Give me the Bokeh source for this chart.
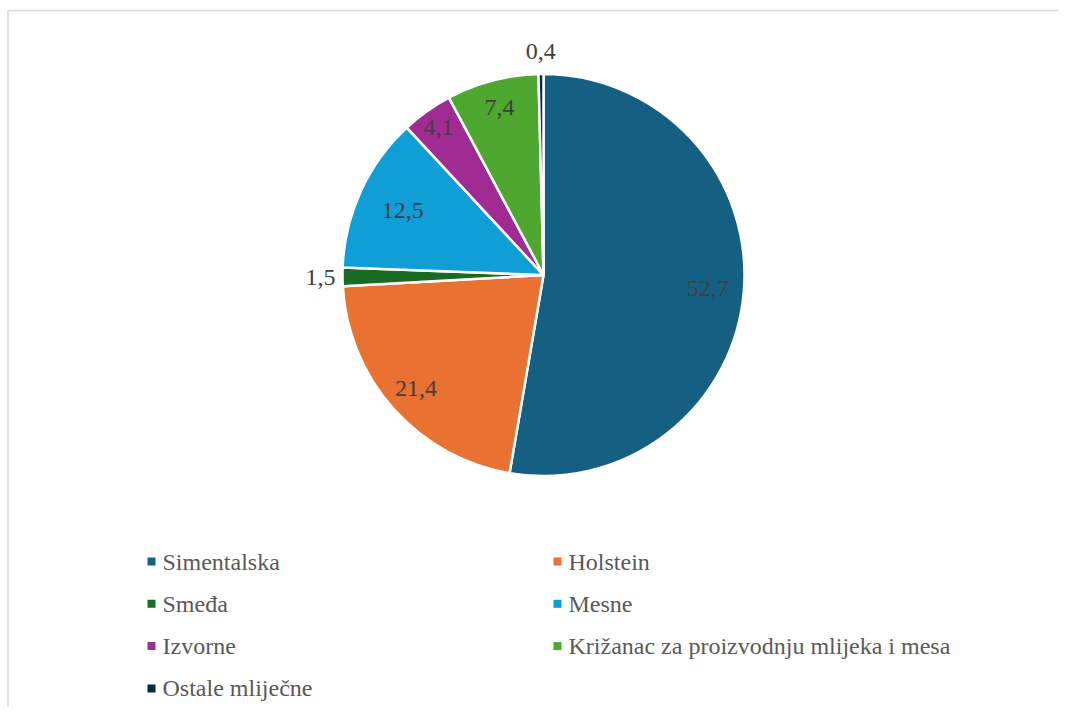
import math
from bokeh.plotting import figure
from bokeh.models import ColumnDataSource, Range1d
from bokeh.core.properties import value
from bokeh.embed import file_html
from bokeh.resources import INLINE

categories = ["Simentalska", "Holstein", "Smeđa", "Mesne", "Izvorne",
              "Križanac za proizvodnju mlijeka i mesa", "Ostale mliječne"]
values = [52.7, 21.4, 1.5, 12.5, 4.1, 7.4, 0.4]
value_labels = ["52,7", "21,4", "1,5", "12,5", "4,1", "7,4", "0,4"]
colors = ["#156082", "#E97132", "#196B24", "#0F9ED5", "#A02B93", "#4EA72E", "#0E2841"]
# style: radial position of each data label, as a fraction of the pie radius
label_radius_frac = [0.82, 0.85, 1.11, 0.77, 0.90, 0.86, 1.11]

W, H = 1059, 707
FONT = "'Liberation Serif', 'Times New Roman', Times, serif"

p = figure(width=W, height=H, output_backend="svg", toolbar_location=None,
           x_range=Range1d(0, W), y_range=Range1d(0, H),
           min_border=0, outline_line_color=None)
p.axis.visible = False
p.grid.visible = False
p.background_fill_color = "white"
p.border_fill_color = "white"

def sy(screen_y):
    return H - screen_y

# chart-area frame (only top/left edges visible in the window)
p.line([7.5, 7.5, W], [0, sy(10), sy(10)], line_color="#D9D9D9", line_width=1.5)

cx, cy = 543, sy(274.5)
R = 201

total = sum(values)
starts, ends, lx, ly = [], [], [], []
cum = 0.0
for v, f in zip(values, label_radius_frac):
    a0 = math.pi / 2 - 2 * math.pi * (cum + v) / total
    a1 = math.pi / 2 - 2 * math.pi * cum / total
    starts.append(a0)
    ends.append(a1)
    mid = (a0 + a1) / 2
    r = f * R
    lx.append(cx + r * math.cos(mid))
    ly.append(cy + r * math.sin(mid))
    cum += v

src = ColumnDataSource(dict(start=starts, end=ends, color=colors,
                            lx=lx, ly=ly, lab=value_labels))
p.wedge(x=cx, y=cy, radius=R, start_angle="start", end_angle="end",
        fill_color="color", line_color="white", line_width=2.5, source=src)
p.text(x="lx", y="ly", text="lab", source=src, text_align="center",
       text_baseline="middle", text_color="#404040",
       text_font=value(FONT), text_font_size="24px")

# legend
mx, tx, my = [], [], []
for i in range(len(categories)):
    col, row = i % 2, i // 2
    mx.append(151 if col == 0 else 557)
    tx.append(162 if col == 0 else 568)
    my.append(sy(561 + 42.3 * row))
lsrc = ColumnDataSource(dict(mx=mx, tx=tx, my=my, color=colors, name=categories))
p.scatter(x="mx", y="my", marker="square", size=8, fill_color="color",
          line_color=None, source=lsrc)
p.text(x="tx", y="my", text="name", source=lsrc, text_align="left",
       text_baseline="middle", text_color="#595959",
       text_font=value(FONT), text_font_size="24px")

open("out.html", "w").write(file_html(p, INLINE))
